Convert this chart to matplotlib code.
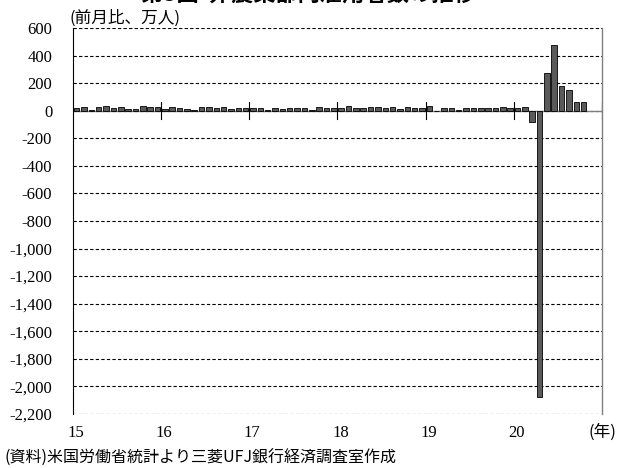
import numpy as np
import matplotlib
matplotlib.use('Agg')
import matplotlib.pyplot as plt
from matplotlib.ticker import FuncFormatter

plt.rcParams['font.family'] = ['Liberation Serif', 'Noto Sans CJK JP', 'DejaVu Sans']

# monthly change in nonfarm payrolls, 10k persons (Jan 2015 - Oct 2020)
y2015 = [19, 27, 7, 25, 34, 21, 25, 15, 15, 32, 26, 25]
y2016 = [13, 24, 23, 15, 4, 30, 29, 18, 25, 12, 16, 16]
y2017 = [22, 23, 5, 21, 15, 21, 21, 17, 2, 26, 22, 18]
y2018 = [18, 32, 16, 18, 27, 25, 18, 28, 11, 28, 20, 23]
y2019 = [31, 1, 22, 22, 6, 18, 17, 22, 19, 19, 26, 18]
y2020 = [21, 25, -85, -2079, 273, 478, 176, 149, 66, 64]
values = y2015 + y2016 + y2017 + y2018 + y2019 + y2020

year_labels = ['15', '16', '17', '18', '19', '20']
yticks = list(range(-2200, 601, 200))

months = np.arange(len(values))

fig = plt.figure(figsize=(6.17, 4.68), dpi=100)
ax = fig.add_axes([0.1183, 0.1154, 0.8574, 0.8248])

ax.bar(months, values, width=0.75, color='#5a5a5a', edgecolor='black', linewidth=0.6, zorder=3)

ax.set_xlim(-0.5, 71.5)
ax.set_ylim(-2200, 600)
ax.set_yticks(yticks)
ax.yaxis.set_major_formatter(FuncFormatter(lambda v, p: f'{int(v):,}'))
ax.tick_params(axis='y', length=0, labelsize=12, pad=15)
ax.yaxis.grid(True, linestyle=(0, (3, 2)), color='black', linewidth=0.8, zorder=1)

for s in ['top', 'bottom']:
    ax.spines[s].set_visible(False)
ax.spines['left'].set_color('black')
ax.spines['right'].set_color('#808080')
ax.spines['right'].set_linewidth(1.0)

# zero line with year boundary ticks
ax.axhline(0, color='#808080', linewidth=1.0, zorder=2)
year_starts = np.arange(0, 72, 12) - 0.5
for xs in list(year_starts[1:]) + [71.5]:
    ax.plot([xs, xs], [-60, 60], color='black', linewidth=0.8, zorder=4)
ax.set_xticks([])

# year labels along the bottom
for xs, lab in zip(year_starts, year_labels):
    ax.text(xs + 0.4, -2335, lab, ha='center', va='center', fontsize=12)
ax.text(71.5, -2335, '(年)', ha='center', va='center', fontsize=12,
        family=['Noto Sans CJK JP', 'DejaVu Sans'])

fig.text(0.112, 0.962, '(前月比、万人)', fontsize=12, ha='left', va='center',
         family=['Noto Sans CJK JP', 'DejaVu Sans'])
fig.text(0.008, 0.020, '(資料)米国労働省統計より三菱UFJ銀行経済調査室作成', fontsize=11.5,
         ha='left', va='center', family=['Noto Sans CJK JP', 'DejaVu Sans'])
fig.text(0.5, 1.012, '第3図  非農業部門雇用者数の推移', fontsize=16, fontweight='bold',
         ha='center', va='center', family=['Noto Sans CJK JP', 'DejaVu Sans'])

fig.savefig('out.png', dpi=100)
